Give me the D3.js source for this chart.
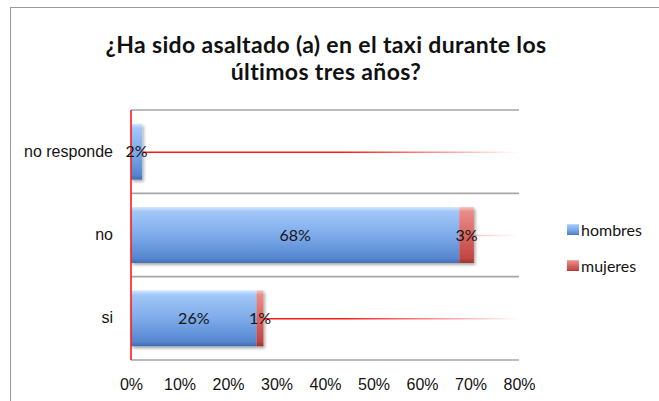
<!DOCTYPE html>
<html>
<head>
<meta charset="utf-8">
<script src="https://cdn.jsdelivr.net/npm/d3@7"></script>
<style>
  html, body { margin: 0; padding: 0; background: #fff; }
  svg { display: block; font-family: Lato, "Open Sans", sans-serif; }
</style>
</head>
<body>
<svg id="chart" width="659" height="401"></svg>
<script>
// Survey answers, share of respondents by sex
const categories = ["no responde", "no", "si"];
const seriesNames = ["hombres", "mujeres"];
const hombres = [0.023, 0.677, 0.259];
const mujeres = [0.0, 0.030, 0.014];
const xTicks = [0, 0.1, 0.2, 0.3, 0.4, 0.5, 0.6, 0.7, 0.8];
const titleLines = ["¿Ha sido asaltado (a) en el taxi durante los", "últimos tres años?"];

const svg = d3.select("#chart");
const W = 659, H = 401;
const plot = { left: 131, right: 519, top: 110, bottom: 360 };
const pct = d3.format(".0%");
const textColor = "#141414";

svg.append("rect").attr("width", W).attr("height", H).attr("fill", "#fff");

// outer chart frame
svg.append("rect")
  .attr("x", 10.5).attr("y", 7.5)
  .attr("width", 700).attr("height", 500)
  .attr("fill", "none").attr("stroke", "#9a9a9a").attr("stroke-width", 1);

const defs = svg.append("defs");

function vGradient(id, stops) {
  const g = defs.append("linearGradient").attr("id", id)
    .attr("x1", 0).attr("y1", 0).attr("x2", 0).attr("y2", 1);
  stops.forEach(([o, c]) => g.append("stop").attr("offset", o).attr("stop-color", c));
}
vGradient("gradBlue", [[0, "#d3e7ff"], [0.08, "#a2c7f8"], [0.5, "#7eabea"], [0.92, "#5586cf"], [1, "#3f6cb0"]]);
vGradient("gradRed",  [[0, "#f7c2c0"], [0.08, "#e98d8a"], [0.5, "#d96663"], [0.92, "#bf4643"], [1, "#9c302d"]]);

// fading red reference lines across each band
const fade = defs.append("linearGradient").attr("id", "fadeRed")
  .attr("gradientUnits", "userSpaceOnUse")
  .attr("x1", plot.left).attr("x2", plot.right).attr("y1", 0).attr("y2", 0);
fade.append("stop").attr("offset", 0).attr("stop-color", "#ff1a1a").attr("stop-opacity", 1);
fade.append("stop").attr("offset", 0.55).attr("stop-color", "#ff1a1a").attr("stop-opacity", 1);
fade.append("stop").attr("offset", 1).attr("stop-color", "#ff1a1a").attr("stop-opacity", 0);

const shadow = defs.append("filter").attr("id", "barShadow")
  .attr("x", "-20%").attr("y", "-20%").attr("width", "140%").attr("height", "140%");
shadow.append("feDropShadow").attr("dx", 1.5).attr("dy", 2).attr("stdDeviation", 1.5)
  .attr("flood-color", "#000").attr("flood-opacity", 0.35);

const x = d3.scaleLinear().domain([0, 0.8]).range([plot.left, plot.right]);
const y = d3.scaleBand().domain(categories).range([plot.top, plot.bottom])
  .paddingInner(0.33).paddingOuter(0.165);
const yGrid = d3.scaleBand().domain(categories).range([plot.top, plot.bottom]);
const color = d3.scaleOrdinal().domain(seriesNames).range(["url(#gradBlue)", "url(#gradRed)"]);

// Title
svg.append("text")
  .attr("x", 326).attr("text-anchor", "middle")
  .attr("font-size", 23).attr("font-weight", 700).attr("fill", "#111")
  .attr("letter-spacing", 0.35)
  .selectAll("tspan").data(titleLines).join("tspan")
  .attr("x", 326).attr("y", (d, i) => 53 + i * 27).text(d => d);

// horizontal category gridlines
const gridYs = categories.map(c => yGrid(c)).concat([plot.bottom]);
svg.append("g").selectAll("line").data(gridYs).join("line")
  .attr("x1", plot.left).attr("x2", plot.right)
  .attr("y1", d => d).attr("y2", d => d)
  .attr("stroke", "#a6a6a6").attr("stroke-width", 1.6);

// red band centre lines
svg.append("g").selectAll("line").data(categories).join("line")
  .attr("x1", plot.left).attr("x2", plot.right)
  .attr("y1", c => y(c) + y.bandwidth() / 2 + 0.5)
  .attr("y2", c => y(c) + y.bandwidth() / 2 + 0.5)
  .attr("stroke", "url(#fadeRed)").attr("stroke-width", 1.5);

// stacked bars
const rows = categories.map((c, i) => ({ cat: c, hombres: hombres[i], mujeres: mujeres[i] }));
const stacked = d3.stack().keys(seriesNames)(rows);

const barsG = svg.append("g").attr("filter", "url(#barShadow)");
barsG.selectAll("g").data(stacked).join("g")
  .attr("fill", d => color(d.key))
  .selectAll("rect").data(d => d.filter(s => s[1] - s[0] > 0)).join("rect")
  .attr("x", d => x(d[0]))
  .attr("y", d => y(d.data.cat))
  .attr("width", d => x(d[1]) - x(d[0]))
  .attr("height", y.bandwidth());

// category axis line (red)
svg.append("line")
  .attr("x1", plot.left).attr("x2", plot.left)
  .attr("y1", plot.top).attr("y2", plot.bottom)
  .attr("stroke", "#ff1a1a").attr("stroke-width", 1.6);

// value labels centred on each segment
const labelG = svg.append("g").attr("font-size", 16).attr("fill", textColor).attr("text-anchor", "middle");
stacked.forEach(layer => {
  labelG.append("g").selectAll("text").data(layer.filter(s => s[1] - s[0] > 0)).join("text")
    .attr("x", d => (x(d[0]) + x(d[1])) / 2)
    .attr("y", d => y(d.data.cat) + y.bandwidth() / 2)
    .attr("dy", "0.36em")
    .text(d => pct(d[1] - d[0]));
});

// value axis labels
const xAxis = svg.append("g").attr("transform", `translate(0,${plot.bottom})`)
  .call(d3.axisBottom(x).tickValues(xTicks).tickFormat(pct).tickSize(0).tickPadding(19));
xAxis.select(".domain").remove();
xAxis.selectAll("text").attr("font-size", 16).attr("fill", textColor).attr("font-family", null);

// category axis labels
const yAxis = svg.append("g").attr("transform", `translate(${plot.left},0)`)
  .call(d3.axisLeft(y).tickSize(0).tickPadding(18));
yAxis.select(".domain").remove();
yAxis.selectAll("text").attr("font-size", 16).attr("fill", textColor).attr("font-family", null);

// legend
const legend = svg.append("g").attr("transform", "translate(567,224)");
const li = legend.selectAll("g").data(seriesNames).join("g")
  .attr("transform", (d, i) => `translate(0,${i * 36})`);
li.append("rect").attr("width", 12).attr("height", 11).attr("fill", d => color(d));
li.append("text").attr("x", 14).attr("y", 6).attr("dy", "0.36em")
  .attr("font-size", 16).attr("fill", textColor).text(d => d);
</script>
</body>
</html>
